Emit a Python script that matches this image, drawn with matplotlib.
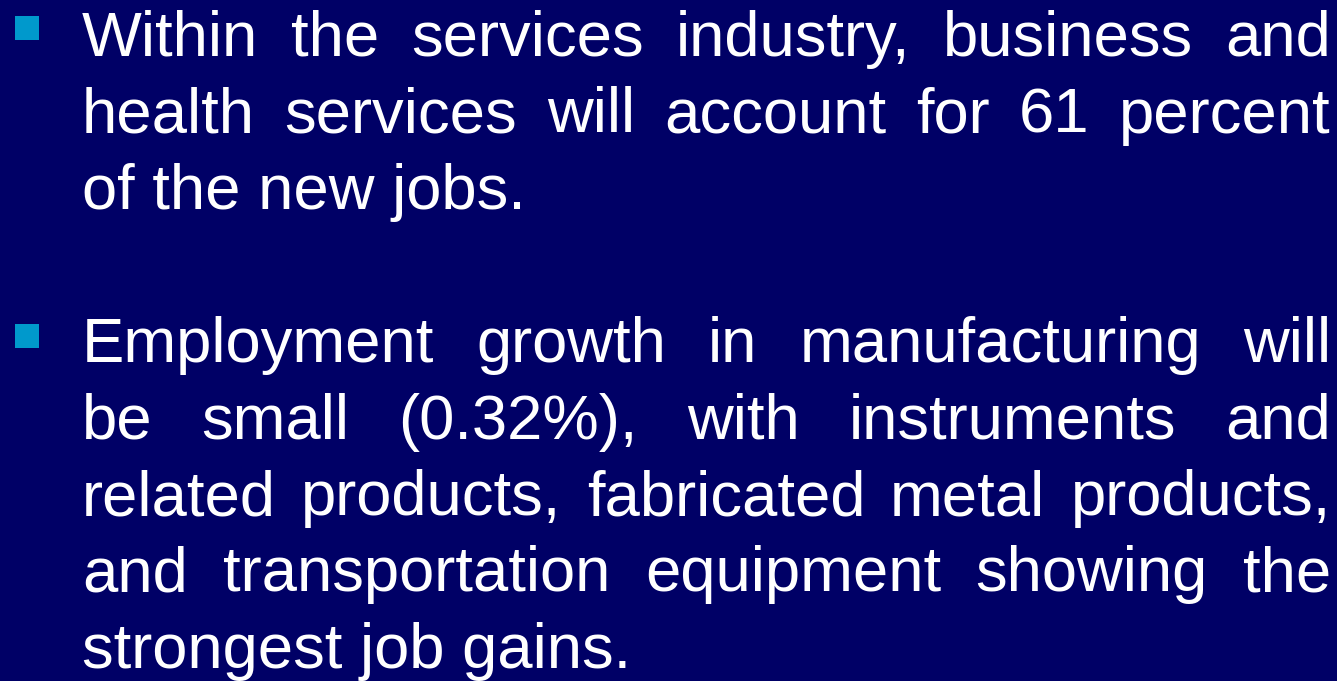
import matplotlib
matplotlib.use("Agg")
import matplotlib.pyplot as plt
from matplotlib.patches import Rectangle

# Content
paragraph1 = [
    "Within the services industry, business and",
    "health services will account for 61 percent",
    "of the new jobs.",
]
paragraph2 = [
    "Employment growth in manufacturing will",
    "be small (0.32%), with instruments and",
    "related products, fabricated metal products,",
    "and transportation equipment showing the",
    "strongest job gains.",
]
paragraphs = [paragraph1, paragraph2]

BG = "#000066"
BULLET = "#0099CC"
W, H = 1337, 681
DPI = 100

fig = plt.figure(figsize=(W / DPI, H / DPI), dpi=DPI, facecolor=BG)
ax = fig.add_axes([0, 0, 1, 1])
ax.set_xlim(0, W)
ax.set_ylim(H, 0)
ax.axis("off")
ax.set_facecolor(BG)

font = dict(family="Liberation Sans", size=45.6, color="white")
left, right = 82, 1331
para_first_baseline = [56, 362]
bullet_tops = [16, 324]
line_step = 76.5

fig.canvas.draw()
renderer = fig.canvas.get_renderer()

def word_width(w):
    t = ax.text(0, 0, w, **font)
    bb = t.get_window_extent(renderer)
    t.remove()
    return bb.width

for p_idx, lines in enumerate(paragraphs):
    ax.add_patch(Rectangle((15, bullet_tops[p_idx]), 24, 24, facecolor=BULLET, edgecolor="none"))
    for l_idx, line in enumerate(lines):
        y = para_first_baseline[p_idx] + l_idx * line_step
        words = line.split()
        last = l_idx == len(lines) - 1
        if last or len(words) == 1:
            ax.text(left, y, line, va="baseline", ha="left", **font)
            continue
        widths = [word_width(w) for w in words]
        gap = (right - left - sum(widths)) / (len(words) - 1)
        x = left
        for w, ww in zip(words, widths):
            ax.text(x, y, w, va="baseline", ha="left", **font)
            x += ww + gap

fig.savefig("out.png", dpi=DPI, facecolor=BG)
